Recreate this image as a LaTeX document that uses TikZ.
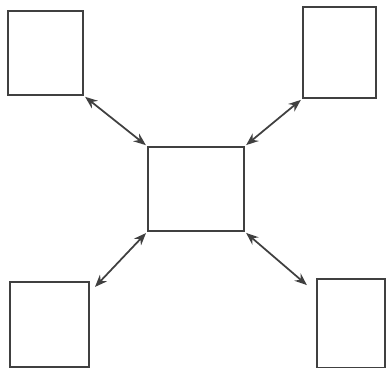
\documentclass[tikz,border=0pt]{standalone}
\usepackage{tikz}
\usetikzlibrary{arrows.meta}

\begin{document}
\begin{tikzpicture}[x=0.02cm, y=-0.02cm,
    box/.style={draw=black!75, line width=0.9pt, inner sep=0pt, fill=white},
    link/.style={draw=black!75, line width=1pt, {Stealth[length=7pt,width=5.5pt]}-{Stealth[length=7pt,width=5.5pt]}, shorten <=1pt, shorten >=1pt}]
    \useasboundingbox (0,0) rectangle (389,368);
    % boxes
    \node[box, minimum width=1.5cm, minimum height=1.68cm] (tl) at (45.5,53) {};
    \node[box, minimum width=1.46cm, minimum height=1.82cm] (tr) at (339.5,52.5) {};
    \node[box, minimum width=1.92cm, minimum height=1.68cm] (c) at (196,189) {};
    \node[box, minimum width=1.58cm, minimum height=1.7cm] (bl) at (49.5,324.5) {};
    \node[box, minimum width=1.36cm, minimum height=1.78cm] (br) at (351,323.5) {};
    % links
    \draw[link] (tl.south east) -- (c.north west);
    \draw[link] (tr.south west) -- (c.north east);
    \draw[link] (c.south west) -- ([shift={(4,7)}]bl.north east);
    \draw[link] (c.south east) -- ([shift={(-8,8)}]br.north west);
\end{tikzpicture}
\end{document}
